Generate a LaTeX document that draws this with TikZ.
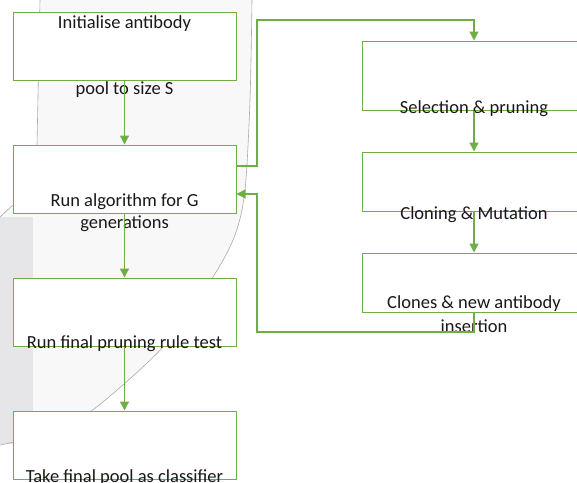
\documentclass[tikz,border=0pt]{standalone}
\usepackage{fontspec}
\setmainfont{Carlito}
\usetikzlibrary{arrows.meta}
\definecolor{fgreen}{RGB}{112,173,71}
\definecolor{bgrey}{RGB}{248,248,248}
\definecolor{sgrey}{RGB}{230,230,232}
\definecolor{agrey}{RGB}{170,170,170}
\tikzset{
  box/.style={draw=fgreen,fill=white,line width=1pt,rectangle,minimum width=223pt,inner sep=0pt},
  lbl/.style={font=\fontsize{18.5}{21}\selectfont,inner sep=0pt,text=black!90},
  link/.style={draw=fgreen,line width=1.3pt,-{Triangle[width=9pt,length=9pt]}},
}
\begin{document}
\begin{tikzpicture}[x=1pt,y=-1pt]
\useasboundingbox (0,0) rectangle (577,482);
\clip (0,0) rectangle (577,482);
% background shading
\fill[bgrey] (40,0) -- (37,145) -- (13,205) -- (0,217) -- (0,445)
  -- plot[smooth] coordinates {(0,445) (40,435) (90,412) (165,345) (213,277) (235,235) (245,190) (250,100) (252,0)} -- cycle;
\fill[sgrey] (0,217) rectangle (33,444);
\draw[agrey,line width=0.6pt] plot[smooth] coordinates {(0,445) (40,435) (90,412) (165,345) (213,277) (235,235) (245,190) (250,100) (252,0)};
\draw[agrey,line width=0.6pt] (40,0) -- (37,145);
\draw[agrey,line width=0.6pt] (13,205) -- (0,217);
% boxes
\node[box,minimum height=68pt] (init) at (124.5,46) {};
\node[box,minimum height=68pt] (run) at (124.5,179) {};
\node[box,minimum height=68pt] (final) at (124.5,312) {};
\node[box,minimum height=68pt] (take) at (124.5,445) {};
\node[box,minimum width=224pt,minimum height=69pt] (sel) at (474,75.5) {};
\node[box,minimum width=224pt,minimum height=59pt] (clone) at (474,181.5) {};
\node[box,minimum width=224pt,minimum height=59pt] (ins) at (474,282.5) {};
% texts
\node[lbl] (initA) at (124.5,24) {Initialise antibody};
\node[lbl] (initB) at (124.5,90) {pool to size S};
\node[lbl] (runA) at (124.5,202) {Run algorithm for G};
\node[lbl] (runB) at (124.5,224) {generations};
\node[lbl] (finalA) at (124.5,344) {Run final pruning rule test};
\node[lbl] (takeA) at (124.5,478) {Take final pool as classifier};
\node[lbl] (selA) at (474,109) {Selection \& pruning};
\node[lbl] (cloneA) at (474,215) {Cloning \& Mutation};
\node[lbl] (insA) at (474,304) {Clones \& new antibody};
\node[lbl] (insB) at (474,326) {insertion};
% connectors
\coordinate (loopA) at (257,20);
\coordinate (loopB) at (257,332);
\draw[link] (init.south) -- (run.north);
\draw[link] (run.south) -- (final.north);
\draw[link] (final.south) -- (take.north);
\draw[link] ([yshift=13pt]run.east) -| (loopA) -| (sel.north);
\draw[link] (sel.south) -- (clone.north);
\draw[link] (clone.south) -- (ins.north);
\draw[link] (ins.south) |- (loopB) |- ([yshift=-15pt]run.east);
\end{tikzpicture}
\end{document}
